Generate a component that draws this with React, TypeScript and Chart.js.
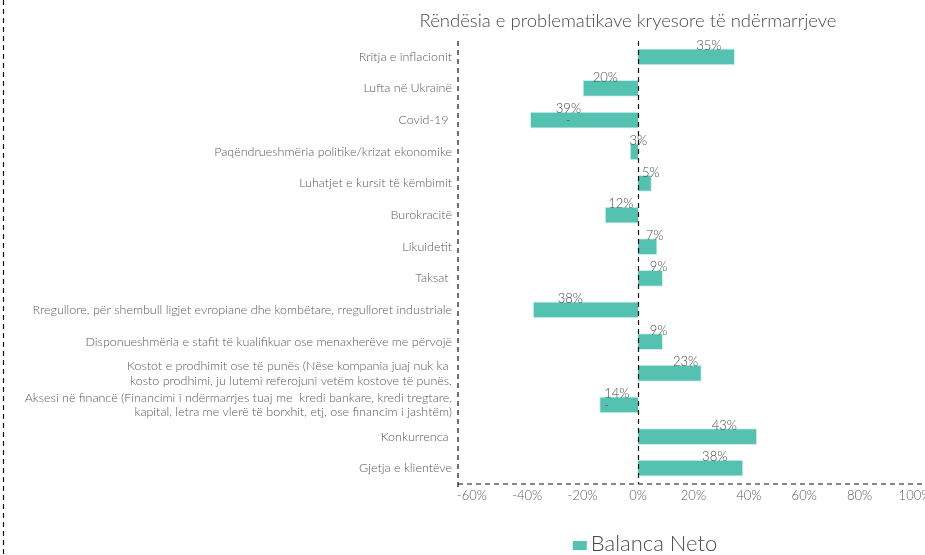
import React, { useEffect, useRef } from "react";
import { Chart, registerables } from "chart.js";

Chart.register(...registerables);

const chartTitle = "Rëndësia e problematikave kryesore të ndërmarrjeve";
const seriesName = "Balanca Neto";

const categories: (string | string[])[] = [
  "Rritja e inflacionit",
  "Lufta në Ukrainë",
  "Covid-19 ",
  "Paqëndrueshmëria politike/krizat ekonomike",
  "Luhatjet e kursit të këmbimit",
  "Burokracitë",
  "Likuidetit",
  "Taksat ",
  "Rregullore, për shembull ligjet evropiane dhe kombëtare, rregulloret industriale",
  "Disponueshmëria e stafit të kualifikuar ose menaxherëve me përvojë",
  [
    "Kostot e prodhimit ose të punës (Nëse kompania juaj nuk ka ",
    "kosto prodhimi, ju lutemi referojuni vetëm kostove të punës.",
  ],
  [
    "Aksesi në financë (Financimi i ndërmarrjes tuaj me  kredi bankare, kredi tregtare,",
    "kapital, letra me vlerë të borxhit, etj, ose financim i jashtëm)",
  ],
  "Konkurrenca ",
  "Gjetja e klientëve",
];

const netBalance = [35, -20, -39, -3, 5, -12, 7, 9, -38, 9, 23, -14, 43, 38];

const valueLabels = ["35%", "20%", "39%", "3%", "5%", "12%", "7%", "9%", "38%", "9%", "23%", "14%", "43%", "38%"];

// stray "-" drawn under some value labels in the original
const minusMarks = ["", "", "center", "", "", "", "", "", "", "", "", "left", "", ""];

const xTicks = [-60, -40, -20, 0, 20, 40, 60, 80, 100];

const BAR_COLOR = "#55C1B1";
const TEXT = "#595959";
const DARK = "#4a4a4a";
const FONT = "Lato, 'Open Sans', sans-serif";

const overlayPlugin = {
  id: "overlay",
  afterDatasetsDraw(chart: any) {
    const { ctx, chartArea, scales } = chart;
    const { left, top, bottom } = chartArea;
    const xs = scales.x;
    ctx.save();

    // dashed lines
    ctx.strokeStyle = "#111";
    ctx.lineWidth = 1.2;
    ctx.setLineDash([5, 4]);
    const line = (x1: number, y1: number, x2: number, y2: number) => {
      ctx.beginPath();
      ctx.moveTo(x1, y1);
      ctx.lineTo(x2, y2);
      ctx.stroke();
    };
    line(3.5, 0, 3.5, chart.height);
    line(left, top, left, bottom + 7);
    const zx = Math.round(xs.getPixelForValue(0)) + 0.5;
    line(zx, top, zx, bottom);
    line(left, bottom, chart.width, bottom);
    ctx.setLineDash([]);

    // value labels
    const meta = chart.getDatasetMeta(0);
    ctx.font = `300 13px ${FONT}`;
    ctx.fillStyle = DARK;
    ctx.textBaseline = "alphabetic";
    meta.data.forEach((el: any, i: number) => {
      const v = netBalance[i];
      const { y, height } = el.getProps(["y", "height"], true);
      const barTop = y - height / 2;
      const cx = xs.getPixelForValue(v * 0.7) + (v < 0 ? 6 : 3);
      const ty = barTop + 1.5;
      ctx.textAlign = "center";
      ctx.fillText(valueLabels[i], cx, ty);
      const w = ctx.measureText(valueLabels[i]).width;
      if (minusMarks[i] === "center") {
        ctx.fillText("-", cx, ty + 12);
      } else if (minusMarks[i] === "left") {
        ctx.textAlign = "left";
        ctx.fillText("-", cx - w / 2, ty + 12);
      }
    });

    // title
    ctx.font = `300 18.5px ${FONT}`;
    ctx.fillStyle = DARK;
    ctx.textAlign = "center";
    ctx.fillText(chartTitle, 628, 27);

    // legend
    ctx.font = `300 22px ${FONT}`;
    const tw = ctx.measureText(seriesName).width;
    const box = 14;
    const gap = 4;
    const startX = 645 - (box + gap + tw) / 2;
    ctx.fillStyle = BAR_COLOR;
    ctx.fillRect(startX, 541, box, 9);
    ctx.fillStyle = DARK;
    ctx.textAlign = "left";
    ctx.fillText(seriesName, startX + box + gap, 551);

    ctx.restore();
  },
};

export default function App() {
  const canvasRef = useRef<HTMLCanvasElement | null>(null);

  useEffect(() => {
    if (!canvasRef.current) return;
    Chart.defaults.font.family = FONT;
    const chart = new Chart(canvasRef.current, {
      type: "bar",
      data: {
        labels: categories,
        datasets: [
          {
            label: seriesName,
            data: netBalance,
            backgroundColor: BAR_COLOR,
            borderColor: "#CDEFE9",
            borderWidth: 1,
            barPercentage: 0.53,
            categoryPercentage: 1,
          },
        ],
      },
      options: {
        indexAxis: "y",
        animation: false,
        responsive: false,
        layout: { padding: { top: 41, right: 10, left: 0, bottom: 0 } },
        plugins: {
          legend: { display: false },
          title: { display: false },
          tooltip: { enabled: false },
        },
        scales: {
          x: {
            type: "linear",
            min: -65,
            max: 100,
            grid: { display: false, drawTicks: false },
            border: { display: false },
            afterBuildTicks: (s: any) => {
              s.ticks = xTicks.map((v) => ({ value: v }));
            },
            afterFit: (s: any) => {
              s.height = 71;
              s.paddingRight = 0;
              s.paddingLeft = 0;
            },
            ticks: {
              autoSkip: false,
              maxRotation: 0,
              padding: 4,
              color: TEXT,
              font: { size: 13, family: FONT, weight: "300" },
              callback: (v: any) => `${v}%`,
            },
          },
          y: {
            type: "category",
            grid: { display: false, drawTicks: false },
            border: { display: false },
            afterFit: (s: any) => {
              s.width = 458;
              s.paddingTop = 0;
              s.paddingBottom = 0;
            },
            ticks: {
              autoSkip: false,
              padding: 6,
              color: TEXT,
              font: { size: 12.5, family: FONT, weight: "300", lineHeight: 1.16 },
            },
          },
        },
      },
      plugins: [overlayPlugin],
    });
    return () => chart.destroy();
  }, []);

  return (
    <div style={{ position: "absolute", left: 0, top: 0, width: 925, height: 555, background: "#fff" }}>
      <canvas ref={canvasRef} width={925} height={555} />
    </div>
  );
}
